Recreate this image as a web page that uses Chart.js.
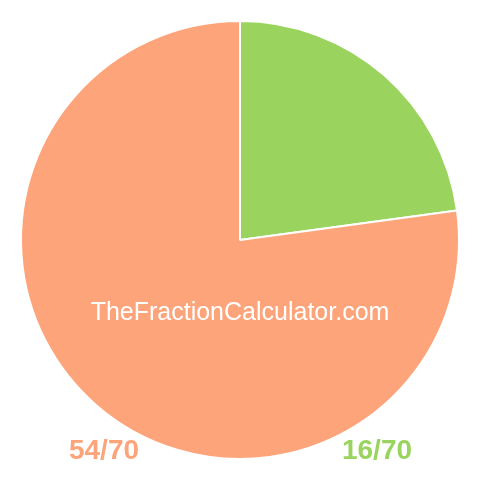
<!DOCTYPE html>
<html>
<head>
<meta charset="utf-8">
<script src="https://cdn.jsdelivr.net/npm/chart.js@4.4.0/dist/chart.umd.min.js"></script>
<style>
  html, body { margin: 0; padding: 0; background: #fff; }
  #pie { display: block; }
</style>
</head>
<body>
<canvas id="pie" width="480" height="480"></canvas>
<script>
// the fraction: 16 of 70 shown green, rest orange
let labels = ["16/70", "54/70"];
let values = [16, 54];
let colors = ["#9ad45f", "#fda47b"];
let watermark = "TheFractionCalculator.com";

// draws the watermark and the two fraction labels under the pie
let textPlugin = {
    id: "fractionText",
    afterDraw: function(chart){
        let ctx = chart.ctx;
        let a = chart.chartArea;
        let cx = (a.left + a.right) / 2;
        let cy = (a.top + a.bottom) / 2;
        ctx.save();
        ctx.textAlign = "center";
        ctx.textBaseline = "middle";
        ctx.fillStyle = "#ffffff";
        ctx.font = "25px 'Liberation Sans', Arial, sans-serif";
        ctx.fillText(watermark, cx, cy + 73);

        ctx.font = "bold 28px 'Liberation Sans', Arial, sans-serif";
        ctx.fillStyle = colors[1];
        ctx.fillText(labels[1], cx - 136, a.bottom - 9);
        ctx.fillStyle = colors[0];
        ctx.fillText(labels[0], cx + 137, a.bottom - 9);
        ctx.restore();
    }
};

new Chart(document.querySelector("#pie"), {
    type: "pie",
    data: {
        labels: labels,
        datasets: [{
            data: values,
            backgroundColor: colors,
            borderColor: "#ffffff",
            borderWidth: 2
        }]
    },
    options: {
        responsive: false,
        animation: false,
        layout: { padding: 20 },
        plugins: {
            legend: { display: false },
            tooltip: { enabled: false }
        }
    },
    plugins: [textPlugin]
});
</script>
</body>
</html>
